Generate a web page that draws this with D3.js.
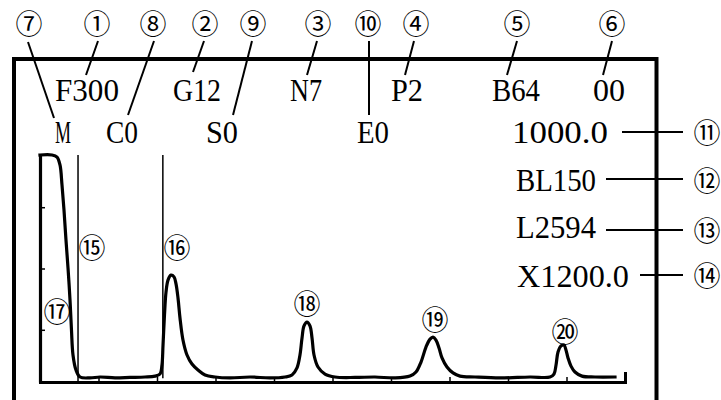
<!DOCTYPE html>
<html>
<head>
<meta charset="utf-8">
<script src="https://cdn.jsdelivr.net/npm/d3@7/dist/d3.min.js"></script>
<style>
  html, body { margin: 0; padding: 0; background: #fff; }
  svg { display: block; }
</style>
</head>
<body>
<script>
// ---- data ----
// trace (x in time units 0..10, y in signal % 0..100)
const traceX = [0, 0.205, 0.291, 0.342, 0.376, 0.410, 0.444, 0.479, 0.513, 0.538, 0.564, 0.615, 0.684,
  0.855, 1.026, 1.282, 1.538, 1.795, 1.966, 2.051, 2.085, 2.103, 2.128, 2.154, 2.188, 2.239, 2.291, 2.325,
  2.359, 2.393, 2.444, 2.513, 2.598, 2.701, 2.821, 2.991, 3.248, 3.590, 3.932, 4.188, 4.308, 4.393, 4.444,
  4.479, 4.513, 4.564, 4.615, 4.650, 4.684, 4.752, 4.872, 5.043, 5.385, 5.726, 6.068, 6.325, 6.427, 6.513,
  6.598, 6.667, 6.718, 6.769, 6.821, 6.872, 6.957, 7.060, 7.179, 7.436, 7.863, 8.376, 8.718, 8.786, 8.821,
  8.855, 8.906, 8.957, 8.991, 9.026, 9.077, 9.145, 9.265, 9.487, 9.829];
const traceY = [100, 100, 99.1, 95.6, 86.8, 75.8, 62.6, 50.2, 36.1, 22.9, 11.9, 5.3, 2.2,
  1.8, 2.2, 1.8, 2.0, 2.2, 2.6, 3.5, 7.5, 16.3, 29.5, 39.6, 44.9, 47.1, 46.3, 43.2,
  37.0, 28.2, 18.5, 11.9, 7.9, 5.3, 3.1, 2.2, 1.8, 2.2, 1.8, 2.2, 3.1, 6.2, 11.9,
  19.4, 24.7, 26.4, 24.7, 19.4, 11.9, 6.6, 3.5, 2.2, 2.0, 2.2, 1.8, 2.6, 4.4, 8.8,
  15.4, 18.9, 19.8, 18.5, 15.0, 10.6, 6.6, 4.0, 2.6, 2.2, 1.8, 2.2, 2.2, 3.5, 7.5,
  13.2, 15.9, 16.3, 14.1, 10.6, 7.0, 4.4, 2.6, 2.2, 2.2];
const xTicks = [1, 2, 3, 4, 5, 6, 7, 8, 9];
const yTicks = [23, 50, 77];
const markerX = [0.65, 2.1];            // vertical marker lines (15, 16)
const markerTopY = [100, 100];
const markerBotY = [0, 1.7];

// parameter texts
const row1Text = ["F300", "G12", "N7", "P2", "B64", "00"];
const row2Text = ["M", "C0", "S0", "E0", "1000.0"];
const sideText = ["BL150", "L2594", "X1200.0"];
// callout numbers
const topNums = ["⑦", "①", "⑧", "②", "⑨", "③", "⑩", "④", "⑤", "⑥"];
const sideNums = ["⑪", "⑫", "⑬", "⑭"];
const peakNums = ["⑮", "⑯", "⑰", "⑱", "⑲", "⑳"];

// ---- layout ----
const W = 721, H = 400;
const SERIF = "'Liberation Serif', 'Times New Roman', Times, serif";
const CIRC = "'Noto Sans CJK SC', 'DejaVu Sans', sans-serif";
const svg = d3.select("body").append("svg").attr("width", W).attr("height", H);

// frame
svg.append("rect").attr("x", 14).attr("y", 59).attr("width", 642.5).attr("height", 380)
  .attr("fill", "none").attr("stroke", "#000").attr("stroke-width", 4);

const x = d3.scaleLinear().domain([0, 10]).range([40, 625]);
const y = d3.scaleLinear().domain([0, 100]).range([382, 155]);

// axes
const gx = svg.append("g").attr("transform", `translate(0,${y(0)})`)
  .call(d3.axisTop(x).tickValues(xTicks).tickSize(5).tickSizeOuter(10).tickFormat(""));
gx.select(".domain").attr("stroke-width", 3);
gx.selectAll(".tick line").attr("stroke-width", 1.5);

const gy = svg.append("g").attr("transform", `translate(${x(0)},0)`)
  .call(d3.axisRight(y).tickValues(yTicks).tickSize(5).tickSizeOuter(0).tickFormat(""));
gy.select(".domain").attr("stroke-width", 3.2);
gy.selectAll(".tick line").attr("stroke-width", 1.5);

// marker lines
svg.selectAll("line.marker").data(markerX).enter().append("line").attr("class", "marker")
  .attr("x1", d => x(d)).attr("x2", d => x(d))
  .attr("y1", (d, i) => y(markerTopY[i])).attr("y2", (d, i) => y(markerBotY[i]))
  .attr("stroke", "#000").attr("stroke-width", 1.5);

// trace
const pts = traceX.map((v, i) => [v, traceY[i]]);
svg.append("path").datum(pts)
  .attr("d", d3.line().x(d => x(d[0])).y(d => y(d[1])).curve(d3.curveCatmullRom.alpha(0.5)))
  .attr("fill", "none").attr("stroke", "#000").attr("stroke-width", 3.2)
  .attr("stroke-linejoin", "round").attr("stroke-linecap", "square");

// parameter texts
const row1X = [55, 173, 290, 391, 492, 593];
const row2X = [55, 106, 206, 357, 512];
const sideX = [516, 516, 517];
const sideBase = [191, 238, 287];
const CW = 16;
function txt(t, px, py) {
  svg.append("text").attr("x", px).attr("y", py)
    .attr("font-family", SERIF).attr("font-size", 32).attr("fill", "#000")
    .attr("textLength", t.length * CW).attr("lengthAdjust", "spacingAndGlyphs").text(t);
}
row1Text.forEach((t, i) => txt(t, row1X[i], 101));
row2Text.forEach((t, i) => txt(t, row2X[i], 143));
sideText.forEach((t, i) => txt(t, sideX[i], sideBase[i]));

// callouts
function num(t, cx, cy) {
  svg.append("text").attr("x", cx).attr("y", cy)
    .attr("font-family", CIRC).attr("font-size", 27).attr("fill", "#000")
    .attr("text-anchor", "middle").attr("dominant-baseline", "central").text(t);
}
function seg(x1, y1, x2, y2) {
  svg.append("line").attr("x1", x1).attr("y1", y1).attr("x2", x2).attr("y2", y2)
    .attr("stroke", "#000").attr("stroke-width", 2);
}
const topCx = [29, 97, 153, 205, 253, 318, 368, 416, 517, 612];
const topLeader = [[28, 42, 54, 118], [98, 41, 86, 75], [154, 41, 128, 115], [204, 41, 193, 72],
  [252, 41, 233, 115], [317, 41, 307, 75], [369, 41, 369, 115], [414, 41, 405, 75],
  [517, 41, 507, 75], [612, 41, 603, 75]];
topNums.forEach((t, i) => { num(t, topCx[i], 22); seg(...topLeader[i]); });

const sideCy = [131, 179, 229, 274];
const sideLeader = [[622, 132, 683, 132], [606, 179, 683, 179], [606, 230, 683, 230], [640, 275, 683, 275]];
sideNums.forEach((t, i) => { num(t, 707, sideCy[i]); seg(...sideLeader[i]); });

const peakPos = [[92, 246], [177, 246], [57, 310], [307, 302], [435, 318], [565, 330]];
peakNums.forEach((t, i) => num(t, peakPos[i][0], peakPos[i][1]));
</script>
</body>
</html>
